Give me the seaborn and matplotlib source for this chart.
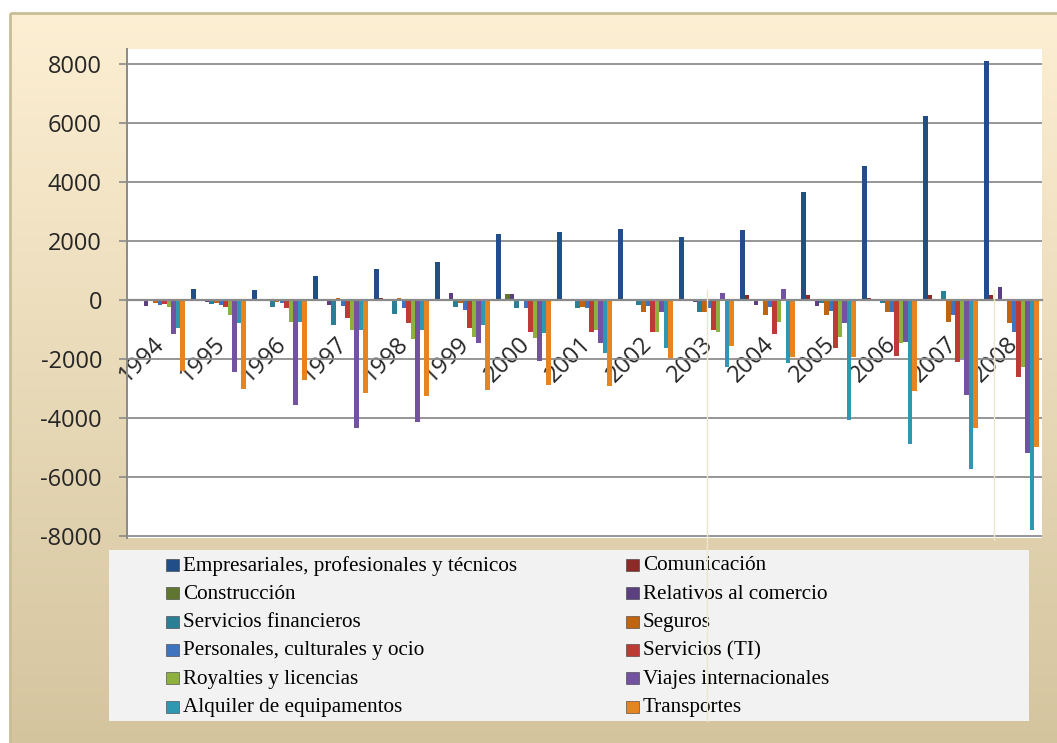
import numpy as np
import pandas as pd
import matplotlib
matplotlib.use("Agg")
import matplotlib.pyplot as plt
from matplotlib.patches import Rectangle
from matplotlib.transforms import ScaledTranslation
import seaborn as sns

# ---- data (millones, saldo por año) ----
years = [str(y) for y in range(1994, 2009)]

series = [
    "Empresariales, profesionales y técnicos",
    "Comunicación",
    "Construcción",
    "Relativos al comercio",
    "Servicios financieros",
    "Seguros",
    "Personales, culturales y ocio",
    "Servicios (TI)",
    "Royalties y licencias",
    "Viajes internacionales",
    "Alquiler de equipamentos",
    "Transportes",
]

empresariales = [40, 380, 340, 800, 1060, 1270, 2250, 2300, 2420, 2150, 2380, 3650, 4550, 6220, 8100]
comunicacion = [-30, -20, 30, 20, 60, 20, 20, 30, 20, 50, 170, 170, 80, 170, 170]
construccion = [-20, -20, -20, 0, -20, 0, 200, 0, -20, 0, 0, 0, 0, 0, 0]
relativos = [-200, -80, -20, -170, -30, 250, 200, -30, -50, -60, -170, -200, -30, -30, 430]
financieros = [-30, -130, -230, -850, -490, -230, -280, -280, -170, -400, -20, -110, -90, 320, 50]
seguros = [-110, -110, -60, 60, 60, -90, -30, -230, -400, -420, -510, -510, -400, -730, -790]
personales = [-170, -170, -110, -200, -280, -340, -280, -280, -200, -280, -230, -360, -400, -510, -1070]
servicios_ti = [-130, -230, -280, -620, -770, -950, -1100, -1100, -1100, -1020, -1160, -1620, -1900, -2090, -2600]
royalties = [-230, -510, -730, -1020, -1330, -1250, -1300, -1020, -1100, -1070, -730, -1240, -1470, -1980, -2260]
viajes = [-1160, -2430, -3560, -4330, -4120, -1450, -2070, -1450, -400, 230, 360, -790, -1410, -3220, -5175]
alquiler = [-960, -790, -730, -1020, -1020, -850, -1130, -1800, -1640, -2280, -2120, -4070, -4860, -5740, -7800]
transportes = [-2400, -3000, -2710, -3140, -3250, -3050, -2880, -2920, -1950, -1560, -1940, -1920, -3070, -4350, -4970]

values = [empresariales, comunicacion, construccion, relativos, financieros, seguros,
          personales, servicios_ti, royalties, viajes, alquiler, transportes]

colors = ["#214D88", "#8B2A26", "#5F7530", "#5B3F80", "#2B7F95", "#C0650F",
          "#3E74BF", "#BE3B35", "#8DB03E", "#7352A0", "#2E98B3", "#E8841F"]

df = pd.DataFrame(
    [(y, s, v) for s, vals in zip(series, values) for y, v in zip(years, vals)],
    columns=["Año", "Serie", "Valor"],
)

sns.set_style("white")
plt.rcParams["font.family"] = ["Open Sans", "DejaVu Sans"]
plt.rcParams["axes.unicode_minus"] = False

W, H = 1057, 743
fig = plt.figure(figsize=(W / 100, H / 100), dpi=100)
fig.patch.set_facecolor("white")

# ---- background panel with vertical gradient and frame ----
bg = fig.add_axes([0, 0, 1, 1], zorder=0)
bg.set_xlim(0, W)
bg.set_ylim(H, 0)
bg.axis("off")
top_c = np.array([253, 239, 211]) / 255
bot_c = np.array([212, 196, 158]) / 255
t = np.linspace(0, 1, 256)[:, None, None]
grad = top_c * (1 - t) + bot_c * t
bg.imshow(grad, extent=(10, W + 5, H + 5, 13), aspect="auto", origin="upper", zorder=0)
bg.add_patch(Rectangle((10, 13), W + 10, H + 10, fill=False, edgecolor="#C9BD96", lw=2, zorder=1))

# legend panel
bg.add_patch(Rectangle((109, 550), 920, 171, facecolor="#F2F2F2", edgecolor="none", zorder=2))
order_rows = [(series[2 * r], colors[2 * r], series[2 * r + 1], colors[2 * r + 1]) for r in range(6)]
for r, (s1, c1, s2, c2) in enumerate(order_rows):
    yc = 565 + 28.3 * r
    for (mx, tx, s, c) in [(166, 183, s1, c1), (626, 643, s2, c2)]:
        bg.add_patch(Rectangle((mx, yc - 6), 13, 12, facecolor=c, edgecolor="#3a3a3a",
                               lw=0.4, zorder=3))
        bg.text(tx, yc + 1, s, fontsize=15.2, family=["Liberation Serif", "DejaVu Serif"],
                va="center", ha="left", color="black", zorder=3)

# ---- chart ----
ax = fig.add_axes([127 / W, 1 - 538 / H, (1042 - 127) / W, (538 - 49) / H], zorder=2)
ax.set_facecolor("white")
sns.barplot(data=df, x="Año", y="Valor", hue="Serie", order=years, hue_order=series,
            palette=colors, width=0.9, errorbar=None, saturation=1, linewidth=0,
            legend=False, ax=ax)

ax.set_ylim(-8060, 8500)
ax.set_xlim(-0.5, len(years) - 0.5)
ax.set_yticks(range(-8000, 8001, 2000))
ax.set_xlabel("")
ax.set_ylabel("")
ax.yaxis.grid(True, color="#8E8E8E", lw=1.3)
ax.xaxis.grid(False)
ax.set_axisbelow(True)

for side in ("top", "right"):
    ax.spines[side].set_visible(False)
ax.spines["bottom"].set_position(("data", 0))
ax.spines["bottom"].set_color("#8A8A8A")
ax.spines["bottom"].set_linewidth(1.6)
ax.spines["bottom"].set_zorder(5)
ax.spines["left"].set_color("#8A8A8A")
ax.spines["left"].set_linewidth(1.4)

ax.set_xticks(np.arange(-0.5, len(years), 1), minor=True)
ax.tick_params(axis="x", which="minor", length=6, width=1.2, color="#8A8A8A", direction="out")
ax.tick_params(axis="x", which="major", length=0, pad=29, labelsize=17)
ax.tick_params(axis="y", which="major", length=6, width=1.2, color="#8A8A8A",
               direction="out", pad=12, labelsize=17, left=True)

offset = ScaledTranslation(0.035, 0, fig.dpi_scale_trans)
for lbl in ax.get_xticklabels():
    lbl.set_rotation(45)
    lbl.set_rotation_mode("anchor")
    lbl.set_ha("right")
    lbl.set_va("center")
    lbl.set_transform(lbl.get_transform() + offset)

# faint vertical guide lines over the slide
ov = fig.add_axes([0, 0, 1, 1], zorder=3)
ov.set_xlim(0, W)
ov.set_ylim(H, 0)
ov.axis("off")
ov.patch.set_alpha(0)
ov.plot([707, 707], [290, 721], color="#EFE5CC", lw=1)
ov.plot([994, 994], [290, 540], color="#EFE5CC", lw=1)

fig.savefig("out.png", dpi=100)
